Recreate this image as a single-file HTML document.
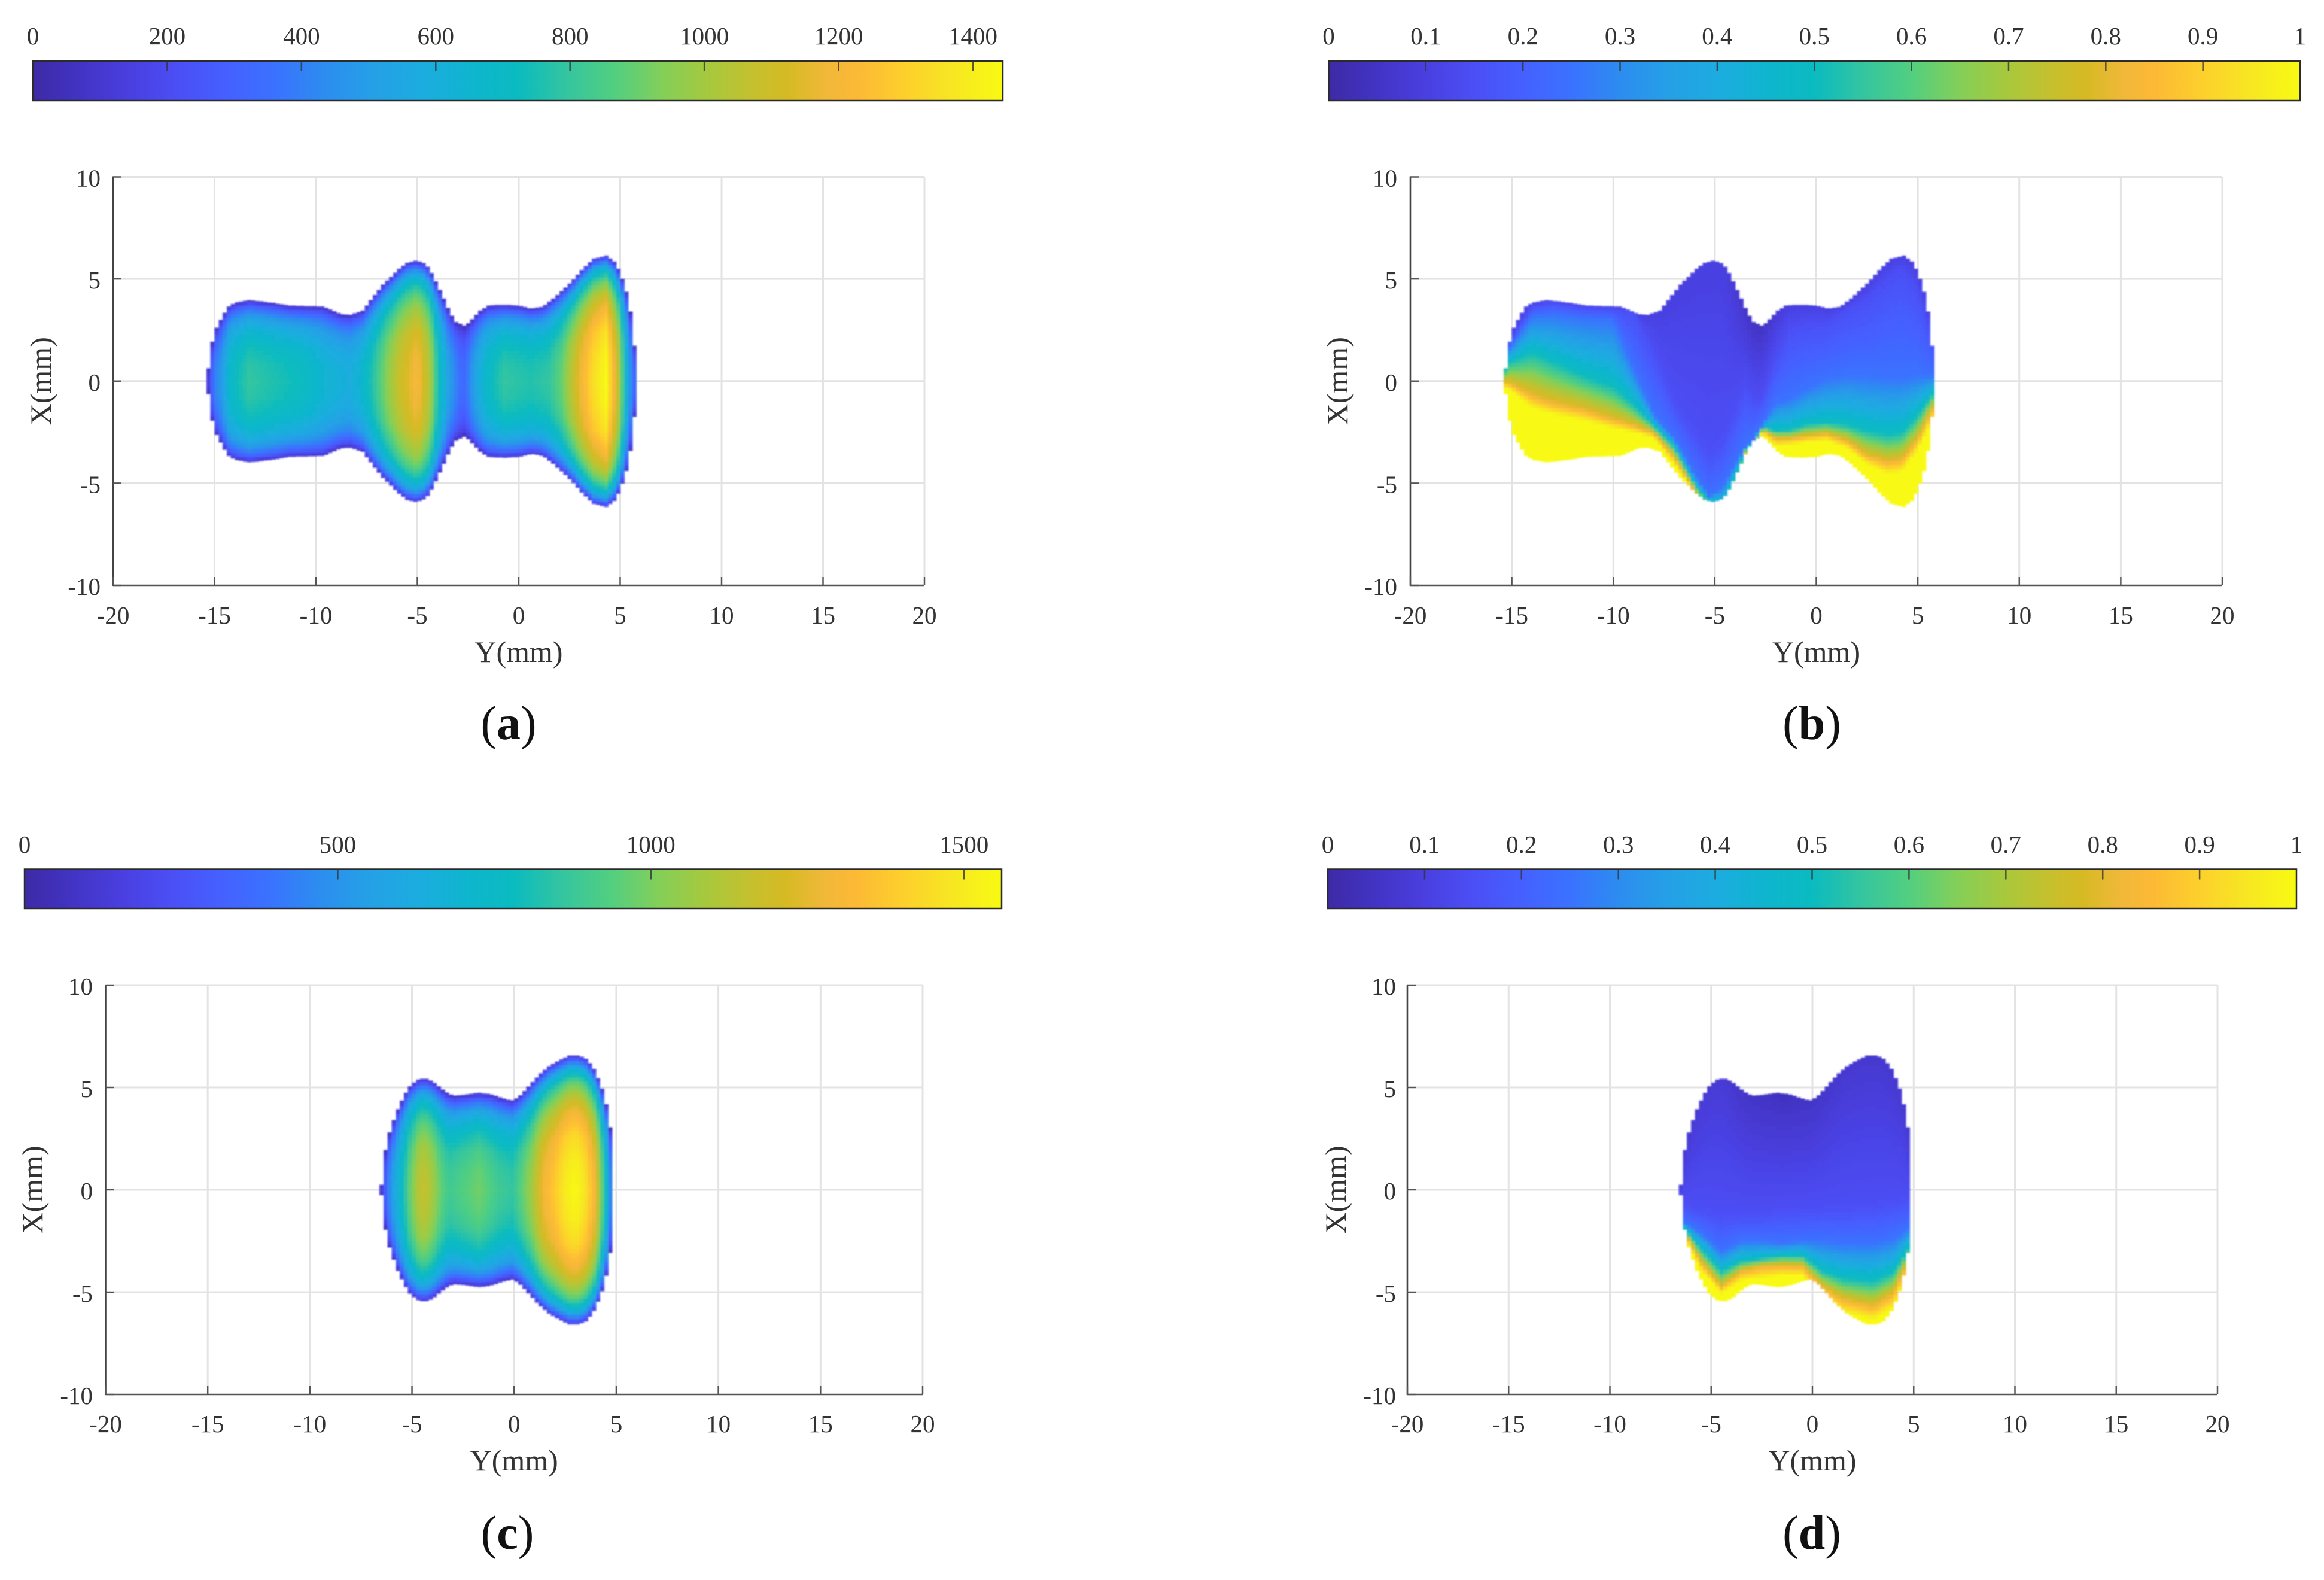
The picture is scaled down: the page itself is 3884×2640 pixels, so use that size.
<!DOCTYPE html>
<html lang="en">
<head>
<meta charset="utf-8">
<title>Four-panel heat map figure</title>
<style>
html,body{margin:0;padding:0;background:#fff;}
svg{display:block;}
text{font-family:"Liberation Serif","Times New Roman",serif;fill:#333;}
</style>
</head>
<body>
<svg id="figure" xmlns="http://www.w3.org/2000/svg" width="3884" height="2640" viewBox="0 0 3884 2640">
<rect x="0" y="0" width="3884" height="2640" fill="#ffffff"/>
</svg>
<script>
// ---------- axis tick labels ----------
const yAxisTicks = [-20, -15, -10, -5, 0, 5, 10, 15, 20];
const xAxisTicks = [10, 5, 0, -5, -10];
const colorbarTicksA = [0, 200, 400, 600, 800, 1000, 1200, 1400];
const colorbarTicksC = [0, 500, 1000, 1500];
const colorbarTicksRatio = [0, 0.1, 0.2, 0.3, 0.4, 0.5, 0.6, 0.7, 0.8, 0.9, 1];

// ---------- footprint half-widths, mm (panels a,b and panels c,d) ----------
const outlineWideY = [-15.3,-15.1,-14.9,-14.7,-14.5,-14.3,-14,-13.27,-12.2,-11.3,-9.65,-8.75,-8.3,-7.7,-7.17,-6.7,-6.34,-5.96,-5.5,-5.06,-4.6,-4.3,-4,-3.7,-3.4,-3.1,-2.65,-2.27,-1.9,-1.5,-0.77,0,0.6,1.2,1.7,2.25,2.7,3.15,3.7,4.3,4.7,4.9,5.1,5.3,5.5,5.7];
const outlineWideH = [0.62,1.93,2.62,3,3.35,3.65,3.84,3.97,3.84,3.7,3.65,3.27,3.25,3.45,4.13,4.72,5.06,5.45,5.8,5.9,5.75,5.3,4.67,4.04,3.35,2.9,2.69,3.06,3.45,3.7,3.74,3.7,3.55,3.65,4.04,4.53,4.97,5.5,6,6.14,5.85,5.5,5,4.38,3.4,1.74];
const outlineNarrowY = [-6.5,-6.3,-6.1,-5.9,-5.7,-5.5,-5.3,-5.1,-4.9,-4.77,-4.38,-3.99,-3.6,-3.2,-2.9,-2.42,-1.73,-1.15,-0.56,-0.12,0.22,0.72,1.2,1.7,2.2,2.7,3.2,3.56,3.9,4.1,4.3,4.5,4.7];
const outlineNarrowH = [0.25,1.94,2.8,3.4,3.94,4.35,4.74,5.06,5.23,5.36,5.45,5.3,4.97,4.67,4.6,4.64,4.74,4.67,4.47,4.36,4.53,5.06,5.6,6.04,6.33,6.56,6.56,6.38,5.9,5.45,4.94,4.18,3.06];

// ---------- panel (a) and (c): centre-line value and across-beam falloff ----------
const centerAY = [-15.3,-15.1,-15,-14.7,-14.2,-13.3,-12.2,-10.7,-9.5,-8.3,-7.7,-7.1,-6.5,-5.9,-5,-4.4,-4,-3.5,-2.9,-2.65,-2.3,-1.65,-0.75,0.6,1.5,2.1,2.85,3.6,4.3,5,5.2,5.5,5.75];
const centerAV = [150,320,405,475,695,795,765,720,635,590,665,795,955,1085,1215,1040,765,535,345,330,475,680,795,765,795,895,1125,1330,1444,1010,720,460,290];
const centerCY = [-6.5,-6.4,-6.15,-5.75,-5.36,-5.07,-4.67,-4.43,-4,-3.6,-3.2,-2.5,-1.7,-0.75,-0.07,0.42,0.9,1.4,1.9,2.5,3,3.46,3.95,4.25,4.55,4.75];
const centerCV = [155,220,435,660,825,985,1125,1170,1090,965,890,935,985,890,860,965,1090,1280,1370,1500,1560,1480,1295,1015,700,390];
const falloffU = [0,0.2,0.4,0.6,0.7,0.8,0.9,0.95,1];
const falloffA = [1,0.985,0.94,0.83,0.75,0.63,0.45,0.3,0.08];
const falloffC = [1,0.98,0.93,0.82,0.73,0.62,0.43,0.28,0.08];

// ---------- panel (b): X position (mm) of each ratio level, per Y station ----------
const ratioBY = [-15.4,-15.2,-14,-13,-11.5,-10,-9,-8,-7,-6,-5.3,-4.6,-4,-3.5,-3,-2.65,-2,-1.3,-0.5,0.5,1.5,2.5,3.5,4.2,5,5.85];
const ratioBTop = [0.08,0.1,0.1,0.1,0.1,0.1,0.1,0.1,0.1,0.1,0.1,0.1,0.08,0.06,0.05,0.05,0.08,0.1,0.1,0.1,0.1,0.1,0.1,0.1,0.1,0.1];
const ratioBIso15 = [0.55,1.8,3.7,3.85,3.6,3.55,3.4,1.5,-1,-2.5,-3.5,-3,-1.5,-0.3,-1,-0.85,1.1,2.5,2.8,2.85,3.5,4,5,5.5,4.5,1.7];
const ratioBIso25 = [0.45,1.5,3.2,3.3,3.1,3,0.6,-1.63,-2.8,-4.56,-5.64,-5.2,-4.1,-3.2,-2.7,-2.1,-1.05,-0.85,-0.36,0.13,0.32,0.3,0.2,0.2,0.3,0.25];
const ratioBIso50 = [0.3,0.9,1.45,1,0.32,-0.26,-1.14,-2.2,-3.2,-5.05,-5.84,-6,-4.6,-3.35,-2.85,-2.27,-2.4,-2.37,-2.12,-2.02,-2.12,-2.4,-2.6,-2.5,-1.63,-0.46];
const ratioBIso80 = [-0.05,0,-0.65,-1,-1.34,-1.83,-2.12,-2.5,-3.7,-5.35,-6.5,-6.5,-6,-3.5,-3,-2.37,-2.8,-2.8,-2.66,-2.56,-2.9,-3.6,-3.9,-3.8,-2.8,-1.05];
const ratioBIso100 = [-0.35,-0.35,-1.34,-1.63,-1.93,-2.32,-2.5,-2.8,-4.07,-5.54,-7,-7,-7,-3.65,-3.15,-2.56,-3.2,-3.1,-3,-2.9,-3.3,-4.07,-4.56,-4.47,-3.4,-1.63];

// ---------- panel (d): X position (mm) of each ratio level, per Y station ----------
const ratioDY = [-6.6,-6.3,-5.5,-4.5,-3.5,-2.5,-1.5,-0.5,0.5,1.5,3,4,4.95];
const ratioDTop = [0.08,0.08,0.08,0.08,0.06,0.05,0.04,0.05,0.06,0.07,0.07,0.07,0.08];
const ratioDIso15 = [-0.1,-0.8,-1,-1.3,-1.2,-1.2,-1,-1,-0.9,-0.9,-0.8,-0.6,-0.4];
const ratioDIso25 = [-0.15,-1.6,-2.1,-3,-2.5,-2.5,-2.62,-2.5,-2.5,-2.6,-2.6,-2.4,-1.7];
const ratioDIso50 = [-0.2,-1.9,-2.86,-3.95,-3.47,-3.35,-3.2,-3.2,-3.95,-4.3,-4.45,-4,-2.5];
const ratioDIso80 = [-0.3,-2.1,-3.5,-4.7,-3.95,-3.7,-3.66,-3.7,-4.7,-5.3,-5.65,-5,-2.9];
const ratioDIso100 = [-0.4,-2.3,-3.95,-5.05,-4.45,-4.32,-4.2,-4.2,-5.3,-6,-6.38,-5.8,-3.2];
const ratioLevels = [0.15,0.25,0.5,0.8,1];

// ---------- colour map ----------
const cmapStops = [0,0.05,0.1,0.15,0.2,0.25,0.3,0.35,0.4,0.45,0.5,0.55,0.6,0.65,0.7,0.75,0.78,0.82,0.85,0.9,0.95,1];
const cmapColors = ["#3d2aa6","#4234c4","#4a3fe0","#4b4ff5","#4560ff","#3a72ff","#2d8cf0","#25a0e6","#1cace0","#0fb5cf","#0abbc0","#34c5a0","#52cf80","#84cf58","#a9c83c","#c9bf2c","#d6ba24","#f2b83a","#fcb935","#fdd02c","#f7e722","#f8fa12"];

const NS = "http://www.w3.org/2000/svg";
const root = document.getElementById("figure");

function node(tag, parent, attrs) {
  const el = document.createElementNS(NS, tag);
  for (const k in attrs) el.setAttribute(k, attrs[k]);
  parent.appendChild(el);
  return el;
}
function interp(xs, ys, x) {
  if (x <= xs[0]) return ys[0];
  for (let i = 1; i < xs.length; i++) {
    if (x <= xs[i]) {
      const t = (x - xs[i - 1]) / (xs[i] - xs[i - 1]);
      return ys[i - 1] + t * (ys[i] - ys[i - 1]);
    }
  }
  return ys[ys.length - 1];
}
function hex(c) { return [1, 3, 5].map(i => parseInt(c.substr(i, 2), 16)); }
function colorFor(f) {
  f = Math.max(0, Math.min(1, f));
  let i = 1;
  while (i < cmapStops.length - 1 && f > cmapStops[i]) i++;
  const t = (f - cmapStops[i - 1]) / (cmapStops[i] - cmapStops[i - 1]);
  const a = hex(cmapColors[i - 1]), b = hex(cmapColors[i]);
  return "rgb(" + a.map((v, k) => Math.round(v + t * (b[k] - v))).join(",") + ")";
}

function beamField(centerY, centerV, falloff, maxV) {
  return function (y, x, h) {
    const u = Math.min(1, Math.abs(x) / h);
    return interp(centerY, centerV, y) * interp(falloffU, falloff, u) / maxV;
  };
}
function ratioField(ys, top, isos) {
  return function (y, x, h) {
    const knots = isos.map(arr => interp(ys, arr, y));
    const t = interp(ys, top, y);
    if (x >= knots[0]) {
      if (h <= knots[0]) return ratioLevels[0];
      return t + (ratioLevels[0] - t) * (h - x) / (h - knots[0]);
    }
    for (let i = 1; i < knots.length; i++) {
      if (x >= knots[i]) {
        const s = (knots[i - 1] - x) / Math.max(1e-6, knots[i - 1] - knots[i]);
        return ratioLevels[i - 1] + s * (ratioLevels[i] - ratioLevels[i - 1]);
      }
    }
    return 1;
  };
}

const panels = [
  { id: "a", bar: [55, 1676, 102, 168], cbMax: 1444.6, cbTicks: colorbarTicksA, plot: [189, 1545, 295.5, 978],
    cbLabelY: 74, tickLabelY: 1041, xLabelY: 1106, yTickRight: 168, yLabelX: 69, capX: 850, capY: 1235,
    outY: outlineWideY, outH: outlineWideH, field: beamField(centerAY, centerAV, falloffA, 1444.6) },
  { id: "b", bar: [2220.5, 3844, 102, 168], cbMax: 1, cbTicks: colorbarTicksRatio, plot: [2357, 3714, 295.5, 978],
    cbLabelY: 74, tickLabelY: 1041, xLabelY: 1106, yTickRight: 2335, yLabelX: 2236, capX: 3028, capY: 1235,
    outY: outlineWideY, outH: outlineWideH, field: ratioField(ratioBY, ratioBTop, [ratioBIso15, ratioBIso25, ratioBIso50, ratioBIso80, ratioBIso100]) },
  { id: "c", bar: [41, 1674, 1452.5, 1518], cbMax: 1560, cbTicks: colorbarTicksC, plot: [176.5, 1542, 1646, 2330],
    cbLabelY: 1425, tickLabelY: 2392, xLabelY: 2457, yTickRight: 155, yLabelX: 55, capX: 848, capY: 2588,
    outY: outlineNarrowY, outH: outlineNarrowH, field: beamField(centerCY, centerCV, falloffC, 1560) },
  { id: "d", bar: [2219, 3838, 1452.5, 1518], cbMax: 1, cbTicks: colorbarTicksRatio, plot: [2352, 3706, 1646, 2330],
    cbLabelY: 1425, tickLabelY: 2392, xLabelY: 2457, yTickRight: 2333, yLabelX: 2233, capX: 3028, capY: 2588,
    outY: outlineNarrowY, outH: outlineNarrowH, field: ratioField(ratioDY, ratioDTop, [ratioDIso15, ratioDIso25, ratioDIso50, ratioDIso80, ratioDIso100]) }
];

const defs = node("defs", root, {});
const blur = node("filter", defs, { id: "soft", x: "-5%", y: "-5%", width: "110%", height: "110%" });
node("feGaussianBlur", blur, { stdDeviation: "1.3" });

panels.forEach(function (p) {
  const g = node("g", root, {});
  
  

  // ---- colorbar ----
  const [bx0, bx1, by0, by1] = p.bar;
  const cx = v => bx0 + (bx1 - bx0) * v / p.cbMax;
  const cb = node("g", g, {});
  
  
  const gradId = "grad-" + p.id;
  const grad = node("linearGradient", defs, { id: gradId, x1: "0", x2: "1", y1: "0", y2: "0" });
  cmapStops.forEach(function (s, i) {
    node("stop", grad, { offset: s, "stop-color": cmapColors[i] });
  });
  const barRect = node("rect", cb, { x: bx0, y: by0, width: bx1 - bx0, height: by1 - by0, fill: "url(#" + gradId + ")", stroke: "#2b2b2b", "stroke-width": 2.5 });
  
  
  p.cbTicks.forEach(function (v) {
    const x = cx(v);
    if (v > 0 && v < p.cbMax) {
      const tk = node("line", cb, { x1: x, x2: x, y1: by0, y2: by0 + 17, stroke: "#333", "stroke-width": 2.5, "stroke-opacity": 0.8 });
      
      
    }
    const t = node("text", cb, { x: x, y: p.cbLabelY, "text-anchor": "middle", "font-size": 41 });
    
    
    t.textContent = String(v);
  });

  // ---- axes scales ----
  const [px0, px1, py0, py1] = p.plot;
  const sx = y => px0 + (px1 - px0) * (y + 20) / 40;
  const sy = x => py0 + (py1 - py0) * (10 - x) / 20;

  // ---- grid ----
  const grid = node("g", g, {});
  
  
  yAxisTicks.forEach(function (v) {
    if (v === -20) return;
    const l = node("line", grid, { x1: sx(v), x2: sx(v), y1: py0, y2: py1, stroke: "#e3e3e3", "stroke-width": 3 });
    
    
  });
  xAxisTicks.forEach(function (v) {
    if (v === -10) return;
    const l = node("line", grid, { x1: px0, x2: px1, y1: sy(v), y2: sy(v), stroke: "#e3e3e3", "stroke-width": 3 });
    
    
  });

  // ---- heat map ----
  const hm = node("g", g, { filter: "url(#soft)", "shape-rendering": "crispEdges" });
  
  
  const step = 0.2;
  const half = step / 2;
  const yStart = p.outY[0], yEnd = p.outY[p.outY.length - 1];
  const cw = sx(step) - sx(0);
  const scaleX = sy(0) - sy(1);
  for (let k = Math.ceil((yStart - half) / step - 0.001); (k + 0.5) * step <= yEnd + 0.001; k++) {
    const y = (k + 0.5) * step;
    const h = interp(p.outY, p.outH, y);
    const n = Math.ceil(h / step);
    for (let j = -n; j <= n; j++) {
      const x = j * step;
      const hi = Math.min(x + half, h);
      const lo = Math.max(x - half, -h);
      if (hi <= lo) continue;
      const cell = document.createElementNS(NS, "rect");
      
      
      cell.setAttribute("x", (sx(y) - cw / 2).toFixed(2));
      cell.setAttribute("y", sy(hi).toFixed(2));
      cell.setAttribute("width", (cw + 0.6).toFixed(2));
      cell.setAttribute("height", ((hi - lo) * scaleX + 0.6).toFixed(2));
      cell.setAttribute("fill", colorFor(p.field(y, (hi + lo) / 2, h)));
      hm.appendChild(cell);
    }
  }

  // ---- axes ----
  const axes = node("g", g, {});
  
  
  const leftAxis = node("line", axes, { x1: px0, x2: px0, y1: py0 - 1, y2: py1 + 1, stroke: "#444", "stroke-width": 2.6 });
  
  
  const bottomAxis = node("line", axes, { x1: px0, x2: px1, y1: py1, y2: py1, stroke: "#555", "stroke-width": 2.6 });
  
  
  yAxisTicks.forEach(function (v) {
    const tk = node("line", axes, { x1: sx(v), x2: sx(v), y1: py1, y2: py1 - 14, stroke: "#555", "stroke-width": 2.4 });
    
    
    const t = node("text", axes, { x: sx(v), y: p.tickLabelY + 1, "text-anchor": "middle", "font-size": 41 });
    
    
    t.textContent = String(v);
  });
  xAxisTicks.forEach(function (v) {
    const tk = node("line", axes, { x1: px0, x2: px0 + 14, y1: sy(v), y2: sy(v), stroke: "#555", "stroke-width": 2.4 });
    
    
    const t = node("text", axes, { x: p.yTickRight, y: sy(v) + 16, "text-anchor": "end", "font-size": 41 });
    
    
    t.textContent = String(v);
  });

  // ---- axis titles ----
  const yTitle = node("text", axes, { x: sx(0), y: p.xLabelY, "text-anchor": "middle", "font-size": 50 });
  
  
  yTitle.textContent = "Y(mm)";
  const xTitle = node("text", axes, { x: 0, y: 0, "text-anchor": "middle", "font-size": 50, transform: "translate(" + (p.yLabelX + 16) + "," + sy(0) + ") rotate(-90)" });
  
  
  xTitle.textContent = "X(mm)";

  // ---- caption ----
  const cap = node("text", g, { x: p.capX, y: p.capY, "text-anchor": "middle", "font-size": 80 });
  
  
  cap.style.fill = "#111";
  const open = node("tspan", cap, {});
  open.textContent = "(";
  const letter = node("tspan", cap, { "font-weight": "bold" });
  letter.textContent = p.id;
  const close = node("tspan", cap, {});
  close.textContent = ")";
});
</script>
</body>
</html>
